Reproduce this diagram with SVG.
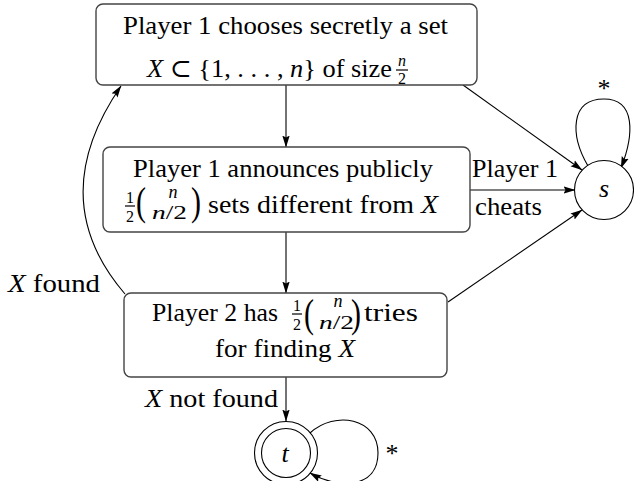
<svg xmlns="http://www.w3.org/2000/svg" width="634" height="481" viewBox="0 0 634 481">
  <style>
    .box { fill: #fff; stroke: #444; stroke-width: 1.4; }
    .edge { fill: none; stroke: #000; stroke-width: 1.1; }
    .bar { stroke: #000; stroke-width: 1.2; }
    .node { fill: #fff; stroke: #000; stroke-width: 1.1; }
  </style>
  <defs>
    <marker id="arrow" viewBox="0 0 12 8" refX="11.5" refY="4" markerWidth="12" markerHeight="8" markerUnits="userSpaceOnUse" orient="auto">
      <path d="M0,0.3 L12,4 L0,7.7 L2,4 z" fill="#000"/>
    </marker>
  </defs>

  <g font-family="'Liberation Serif', 'Times New Roman', 'DejaVu Serif', serif" font-size="26" fill="#000">

  <!-- connectors -->
  <g id="edges">
    <path class="edge" d="M286 85 L286 147" marker-end="url(#arrow)"/>
    <path class="edge" d="M286 232 L286 293" marker-end="url(#arrow)"/>
    <path class="edge" d="M286 377 L286 421" marker-end="url(#arrow)"/>
    <path class="edge" d="M463 85 L582 170" marker-end="url(#arrow)"/>
    <path class="edge" d="M470 190 L575 190" marker-end="url(#arrow)"/>
    <path class="edge" d="M448 302 L582 210" marker-end="url(#arrow)"/>
    <path class="edge" d="M125 294 C70 230, 70 160, 121 86" marker-end="url(#arrow)"/>
    <path class="edge" d="M588 166 C570 135, 570 99, 604 99 C636 99, 634 135, 621 168" marker-end="url(#arrow)"/>
    <path class="edge" d="M310 433 C335 410, 378 418, 378 453 C378 488, 340 490, 310 473" marker-end="url(#arrow)"/>
    <text x="472" y="177" textLength="86" lengthAdjust="spacingAndGlyphs">Player 1</text>
    <text x="475" y="215" textLength="67" lengthAdjust="spacingAndGlyphs">cheats</text>
    <text x="8" y="292" textLength="92" lengthAdjust="spacingAndGlyphs"><tspan font-style="italic">X</tspan> found</text>
    <text x="145" y="407" textLength="133" lengthAdjust="spacingAndGlyphs"><tspan font-style="italic">X</tspan> not found</text>
    <text x="604" y="97" text-anchor="middle">*</text>
    <text x="392" y="462" text-anchor="middle">*</text>
  </g>

  <!-- choice of the secret set -->
  <g id="choose">
    <rect class="box" x="96" y="4" width="381" height="81" rx="7"/>
    <text x="123" y="34" textLength="325" lengthAdjust="spacingAndGlyphs">Player 1 chooses secretly a set</text>
    <text x="147" y="77" textLength="245" lengthAdjust="spacingAndGlyphs"><tspan font-style="italic">X</tspan> ⊂ {1, . . . , <tspan font-style="italic">n</tspan>} of size</text>
    <text x="402" y="66" font-size="16" font-style="italic" text-anchor="middle">n</text>
    <line class="bar" x1="396" y1="70" x2="408" y2="70"/>
    <text x="402" y="84" font-size="16" text-anchor="middle">2</text>
  </g>

  <!-- public announcement -->
  <g id="announce">
    <rect class="box" x="103" y="147" width="367" height="85" rx="7"/>
    <text x="133" y="177" textLength="300" lengthAdjust="spacingAndGlyphs">Player 1 announces publicly</text>
    <text x="130" y="203" font-size="16" text-anchor="middle">1</text>
    <line class="bar" x1="125" y1="206" x2="135" y2="206"/>
    <text x="130" y="222" font-size="16" text-anchor="middle">2</text>
    <text x="136" y="215" font-size="40" transform="translate(136 0) scale(0.75 1) translate(-136 0)">(</text>
    <text x="173" y="198" font-size="18" font-style="italic" text-anchor="middle">n</text>
    <text x="152" y="219" font-size="18" textLength="35" lengthAdjust="spacingAndGlyphs"><tspan font-style="italic">n</tspan>/2</text>
    <text x="191" y="215" font-size="40" transform="translate(191 0) scale(0.75 1) translate(-191 0)">)</text>
    <text x="208" y="213" textLength="230" lengthAdjust="spacingAndGlyphs">sets different from <tspan font-style="italic">X</tspan></text>
  </g>

  <!-- guessing phase -->
  <g id="guess">
    <rect class="box" x="124" y="293" width="323" height="84" rx="7"/>
    <text x="152" y="321" textLength="126" lengthAdjust="spacingAndGlyphs">Player 2 has</text>
    <text x="297" y="311" font-size="16" text-anchor="middle">1</text>
    <line class="bar" x1="292" y1="314" x2="302" y2="314"/>
    <text x="297" y="330" font-size="16" text-anchor="middle">2</text>
    <text x="304" y="327" font-size="40" transform="translate(304 0) scale(0.75 1) translate(-304 0)">(</text>
    <text x="338" y="307" font-size="18" font-style="italic" text-anchor="middle">n</text>
    <text x="319" y="329" font-size="18" textLength="35" lengthAdjust="spacingAndGlyphs"><tspan font-style="italic">n</tspan>/2</text>
    <text x="351" y="327" font-size="40" transform="translate(351 0) scale(0.75 1) translate(-351 0)">)</text>
    <text x="364" y="321" textLength="54" lengthAdjust="spacingAndGlyphs">tries</text>
    <text x="215" y="357" textLength="140" lengthAdjust="spacingAndGlyphs">for finding <tspan font-style="italic">X</tspan></text>
  </g>

  <!-- sink state s -->
  <g id="s">
    <circle class="node" cx="604" cy="190" r="29.5"/>
    <text x="604" y="197" font-style="italic" text-anchor="middle">s</text>
  </g>

  <!-- accepting state t -->
  <g id="t">
    <circle class="node" cx="286" cy="453" r="31.5"/>
    <circle class="node" cx="286" cy="453" r="24.5"/>
    <text x="285" y="462" font-style="italic" text-anchor="middle">t</text>
  </g>

  </g>
</svg>
